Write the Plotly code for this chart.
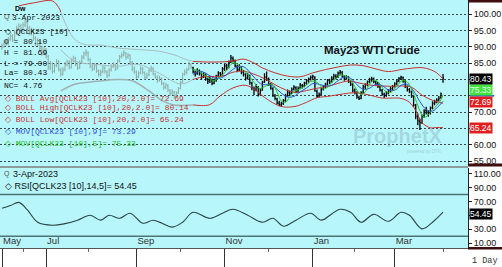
import plotly.graph_objects as go

# ---------------- data ----------------
bar_open = [
    89.6, 90.0, 91.7, 90.9, 92.2, 93.3, 92.3, 94.0, 95.4, 96.5,
    95.0, 96.6, 97.6, 95.7, 94.0, 95.3, 92.5, 90.7, 91.6, 89.2,
    88.3, 89.2, 87.0, 83.6, 84.9, 82.4, 84.3, 85.5, 82.8, 81.5,
    83.1, 84.4, 85.4, 83.6, 85.7, 86.6, 84.5, 83.7, 85.3, 86.6,
    88.0, 88.1, 86.0, 83.8, 83.3, 84.2, 82.4, 81.7, 82.4, 83.5,
    82.2, 81.2, 83.0, 84.1, 84.3, 83.4, 85.8, 87.1, 87.6, 88.0,
    86.9, 87.3, 85.1, 83.3, 82.2, 80.9, 82.1, 83.2, 81.9, 80.8,
    81.5, 82.9, 83.3, 81.6, 80.7, 79.8, 80.2, 78.7, 77.7, 78.1,
    76.6, 75.8, 76.1, 75.1, 76.0, 77.3, 79.2, 81.7, 82.1, 83.1,
    84.4,
    83.6, 82.2, 81.8, 82.6, 81.7, 80.9, 81.3, 80.0, 79.6,
    79.9, 78.9, 79.8, 81.1, 81.8, 81.6, 83.1, 84.3, 83.7, 85.4,
    86.4, 85.7, 84.0, 83.0, 83.7, 82.3, 81.4, 80.5, 81.0, 78.8,
    77.2, 77.0, 77.6, 75.6, 76.8, 79.3, 80.6, 80.0, 78.4, 77.1,
    74.9, 74.0, 72.7, 72.2, 72.7, 73.6, 75.2, 76.0, 75.9, 77.1,
    77.4, 76.6, 77.4, 78.1, 78.1, 78.9, 79.7, 80.2, 80.8, 80.7,
    76.3, 75.0, 75.5, 77.1, 77.9, 78.6, 79.7, 79.3, 80.5, 81.0,
    80.9, 82.0, 82.1, 80.8, 80.4, 80.6, 79.2, 78.4, 76.7, 75.8,
    74.4, 74.3, 76.1, 77.7, 78.5, 79.4, 79.8, 80.2, 79.1, 78.8,
    77.7, 76.6, 75.4, 75.1, 75.9, 76.6, 77.0, 78.0, 78.8, 79.6,
    80.4, 80.5, 79.4, 77.7, 76.9, 76.2, 74.6, 72.0, 68.6, 67.2,
    67.0, 68.9, 70.5, 69.9, 69.8, 71.4, 72.6, 73.2, 73.8, 74.5,
    80.10,
]
bar_high = [
    91.0, 92.1, 92.3, 93.0, 94.0, 93.8, 95.0, 96.4, 97.2, 96.9,
    97.5, 98.3, 98.0, 96.3, 95.9, 95.6, 93.2, 92.6, 92.0, 90.3,
    89.9, 89.6, 87.5, 85.7, 85.2, 84.9, 86.2, 85.9, 83.6, 83.7,
    85.3, 86.0, 85.8, 86.5, 87.2, 86.9, 85.2, 85.8, 87.4, 88.5,
    89.2, 88.6, 86.4, 84.6, 85.1, 84.7, 83.0, 83.0, 84.3, 84.0,
    82.8, 83.4, 84.6, 85.2, 84.9, 86.1, 87.5, 88.2, 89.0, 88.4,
    88.1, 87.7, 85.6, 84.0, 82.7, 82.5, 84.0, 83.8, 82.4, 82.0,
    83.3, 84.2, 83.8, 82.0, 81.2, 81.1, 80.6, 79.2, 79.0, 78.6,
    77.1, 77.0, 76.5, 76.4, 77.7, 79.6, 82.0, 83.0, 83.6, 85.4,
    85.0,
    83.9, 82.7, 83.4, 83.0, 82.1, 82.2, 81.8, 80.5, 80.8,
    80.3, 80.2, 81.4, 82.5, 82.3, 83.8, 84.7, 84.8, 85.8, 87.5,
    87.0, 86.1, 84.5, 84.6, 84.1, 82.9, 81.9, 81.9, 81.5, 79.3,
    77.8, 78.6, 78.0, 77.2, 79.6, 81.9, 82.4, 80.6, 78.9, 77.6,
    75.5, 74.4, 73.5, 73.2, 74.0, 75.6, 76.9, 76.6, 77.5, 78.2,
    77.9, 77.8, 78.9, 78.6, 79.3, 80.1, 80.6, 81.2, 81.4, 81.0,
    76.9, 76.0, 77.4, 78.3, 79.0, 80.1, 80.2, 81.0, 81.7, 81.6,
    82.4, 82.9, 82.6, 81.3, 81.3, 81.0, 79.9, 78.9, 77.2, 76.4,
    75.0, 76.4, 78.3, 78.8, 79.7, 80.5, 80.8, 80.6, 79.6, 79.2,
    78.2, 77.1, 75.9, 76.4, 77.0, 77.8, 78.3, 79.1, 80.0, 80.7,
    81.1, 80.9, 79.9, 78.1, 77.4, 76.6, 75.0, 72.5, 69.6, 68.0,
    69.3, 70.9, 71.6, 70.6, 71.7, 73.3, 73.8, 74.2, 74.9, 76.0,
    81.69,
]
bar_low = [
    89.1, 89.7, 90.2, 90.5, 91.8, 91.4, 92.0, 93.6, 94.9, 94.3,
    94.6, 96.0, 95.2, 93.5, 93.4, 91.8, 90.1, 90.2, 88.7, 87.2,
    87.6, 86.4, 82.9, 82.8, 81.7, 82.0, 83.7, 82.4, 80.9, 81.2,
    82.5, 84.0, 83.1, 83.3, 85.1, 84.0, 82.9, 83.2, 84.8, 86.2,
    87.1, 85.5, 83.4, 82.5, 82.8, 82.0, 80.8, 81.0, 81.9, 81.8,
    80.4, 80.8, 82.4, 83.5, 82.6, 83.0, 85.2, 86.5, 87.0, 86.0,
    86.3, 84.6, 82.5, 81.7, 80.1, 80.4, 81.6, 81.5, 79.9, 80.1,
    81.0, 82.3, 81.2, 80.2, 79.0, 79.3, 78.2, 76.8, 77.1, 76.1,
    74.9, 75.2, 74.2, 74.6, 75.5, 77.0, 78.9, 81.1, 81.6, 82.7,
    83.2,
    81.8, 80.9, 81.4, 81.2, 80.0, 80.4, 79.6, 78.6, 78.9,
    78.2, 78.5, 79.3, 80.6, 80.8, 81.2, 82.6, 82.9, 83.3, 85.0,
    85.2, 83.7, 82.2, 82.6, 81.6, 80.9, 79.7, 80.0, 78.4, 76.7,
    75.2, 76.4, 74.8, 75.1, 76.5, 78.9, 79.5, 78.0, 76.8, 74.6,
    73.6, 72.3, 71.8, 71.6, 72.2, 73.2, 74.7, 74.9, 75.5, 76.6,
    75.8, 76.0, 77.0, 77.2, 77.6, 78.4, 79.0, 79.7, 80.0, 76.2,
    74.3, 74.5, 75.1, 76.6, 77.3, 78.1, 78.6, 78.9, 80.0, 80.1,
    80.4, 81.4, 80.5, 79.6, 79.9, 78.9, 78.0, 76.0, 75.4, 74.1,
    73.7, 73.9, 75.7, 77.1, 77.9, 78.8, 79.2, 78.8, 78.1, 77.4,
    76.3, 75.0, 74.3, 74.7, 75.4, 76.1, 76.6, 77.5, 78.2, 79.1,
    79.8, 79.0, 77.4, 76.3, 75.8, 74.4, 71.6, 67.8, 66.0, 64.5,
    66.4, 68.3, 69.3, 68.6, 69.3, 70.9, 72.1, 72.7, 73.3, 74.1,
    79.00,
]
bar_close = [
    90.2, 91.5, 90.8, 92.4, 93.1, 92.0, 94.3, 95.6, 96.2, 95.1,
    96.8, 97.4, 95.9, 94.2, 95.0, 92.6, 90.9, 91.8, 89.4, 88.1,
    89.0, 87.2, 83.9, 84.8, 82.6, 84.1, 85.3, 83.0, 81.7, 82.9,
    84.6, 85.2, 83.8, 85.9, 86.4, 84.7, 83.5, 85.1, 86.8, 87.9,
    88.3, 86.2, 84.0, 83.1, 84.4, 82.6, 81.5, 82.2, 83.7, 82.4,
    81.0, 82.8, 83.9, 84.5, 83.2, 85.6, 86.9, 87.4, 88.2, 86.7,
    87.5, 85.3, 83.1, 82.4, 80.8, 81.9, 83.4, 82.1, 80.6, 81.3,
    82.7, 83.5, 81.8, 80.9, 79.6, 80.4, 78.9, 77.5, 78.3, 76.8,
    75.6, 76.3, 74.9, 75.8, 77.1, 79.0, 81.5, 82.3, 82.9, 84.6,
    83.8,
    82.4, 81.6, 82.8, 81.9, 80.7, 81.5, 80.2, 79.4, 80.1,
    78.8, 79.6, 80.9, 82.0, 81.4, 83.3, 84.1, 83.5, 85.2, 86.6,
    85.9, 84.2, 82.8, 83.9, 82.1, 81.6, 80.3, 81.2, 79.0, 77.4,
    76.8, 77.9, 75.4, 76.6, 79.1, 80.8, 80.2, 78.6, 77.3, 75.1,
    74.2, 72.9, 72.3, 72.5, 73.4, 75.0, 76.2, 75.7, 76.9, 77.6,
    76.4, 77.2, 78.3, 77.9, 78.8, 79.5, 80.1, 80.6, 80.9, 76.5,
    74.8, 75.3, 76.9, 77.8, 78.5, 79.6, 79.2, 80.4, 81.1, 80.7,
    81.9, 82.3, 81.0, 80.2, 80.7, 79.4, 78.6, 76.5, 76.0, 74.6,
    74.1, 75.9, 77.8, 78.3, 79.2, 80.0, 80.4, 79.3, 78.6, 77.9,
    76.8, 75.6, 74.9, 75.8, 76.4, 77.2, 77.8, 78.6, 79.4, 80.2,
    80.7, 79.6, 77.9, 76.8, 76.4, 74.9, 72.3, 68.8, 67.4, 66.8,
    68.7, 70.3, 70.1, 69.6, 71.2, 72.8, 73.0, 73.6, 74.2, 75.67,
    80.43,
]
faded_count = 91  # older bars drawn in pale gray

# bands / averages, (bar index, value)
red_top_idx = [8, 15, 24, 27, 28]
red_top_val = [102.5, 103.4, 104.0, 102.0, 100.6]
gray_up_idx = [28, 31, 35, 40, 47, 55, 61, 68, 75, 82, 88, 91]
gray_up_val = [100.6, 96.0, 92.0, 90.6, 90.5, 89.6, 89.3, 89.0, 88.6, 87.5, 86.0, 85.5]
gray_mid_idx = [28, 35, 45, 55, 65, 75, 85, 91]
gray_mid_val = [89.0, 85.5, 84.6, 84.0, 84.6, 81.8, 78.6, 80.0]
gray_low_idx = [28, 35, 45, 55, 62, 70, 76, 82, 91]
gray_low_val = [76.5, 78.6, 79.4, 80.0, 79.6, 76.5, 73.6, 72.2, 72.2]

boll_hi_idx = [91, 100, 110, 115, 120, 124, 130, 136, 142, 148, 154, 160, 166, 172,
               178, 184, 190, 196, 200, 204, 207, 210]
boll_hi_val = [85.5, 85.3, 85.6, 86.2, 85.0, 83.5, 82.0, 81.0, 80.8, 82.0, 83.0, 83.8,
               84.4, 84.2, 83.2, 82.4, 83.0, 83.5, 83.6, 83.0, 82.0, 80.14]
boll_avg_idx = [91, 96, 100, 105, 110, 115, 120, 125, 130, 135, 140, 145, 150, 155,
                160, 165, 170, 175, 180, 185, 190, 195, 200, 205, 210]
boll_avg_val = [80.0, 80.8, 80.9, 81.0, 82.2, 82.5, 81.6, 80.2, 78.4, 76.8, 76.0, 76.6,
                77.3, 77.8, 78.8, 79.5, 78.9, 78.3, 78.0, 77.9, 78.0, 77.6, 75.2, 73.6, 72.69]
boll_lo_idx = [91, 95, 99, 104, 110, 116, 120, 125, 130, 134, 140, 145, 150, 155, 160,
               165, 169, 175, 181, 186, 190, 194, 197, 200, 204, 207, 210]
boll_lo_val = [72.2, 72.0, 72.3, 75.0, 77.4, 78.2, 77.0, 74.5, 72.5, 71.6, 71.8, 73.0,
               74.4, 74.8, 75.3, 75.8, 75.9, 75.2, 74.3, 74.3, 74.2, 73.0, 70.5, 66.8,
               65.2, 65.3, 65.24]

mov5_idx = [91, 93, 95, 97, 99, 101, 103, 105, 107, 109, 111, 113, 115, 117, 119, 121,
            123, 125, 127, 129, 131, 133, 135, 137, 139, 141, 143, 145, 147, 149, 151,
            153, 155, 157, 159, 161, 163, 165, 167, 169, 171, 173, 175, 177, 179, 181,
            183, 185, 187, 189, 191, 193, 195, 197, 199, 201, 203, 205, 207, 209, 210]
mov5_val = [83.0, 82.8, 81.8, 81.2, 80.2, 79.6, 80.4, 81.4, 82.8, 84.6, 85.1, 84.2,
            82.8, 81.6, 79.9, 78.3, 77.2, 77.8, 78.3, 78.4, 76.1, 73.4, 73.0, 74.6,
            76.3, 76.8, 77.5, 78.3, 79.4, 79.4, 78.6, 77.1, 77.6, 79.1, 80.2, 81.3,
            81.2, 80.3, 78.9, 76.7, 75.4, 76.2, 78.5, 79.8, 79.3, 77.6, 76.2, 76.0,
            77.2, 78.8, 79.7, 79.2, 77.1, 73.8, 70.4, 68.4, 69.1, 70.8, 72.0, 73.7, 75.33]
mov9_idx = [91, 94, 97, 100, 103, 106, 109, 112, 115, 118, 121, 124, 127, 130, 133,
            136, 139, 142, 145, 148, 151, 154, 157, 160, 163, 166, 169, 172, 175, 178,
            181, 184, 187, 190, 193, 196, 199, 202, 205, 208, 210]
mov9_val = [81.5, 82.5, 81.9, 80.7, 80.3, 81.0, 82.6, 83.8, 83.9, 82.2, 79.9, 78.4,
            78.5, 77.5, 75.8, 74.6, 74.8, 76.2, 77.4, 78.7, 78.5, 78.0, 78.2, 79.6,
            80.7, 80.3, 78.4, 77.0, 77.3, 78.5, 78.1, 76.8, 76.7, 78.2, 78.5, 76.5,
            73.2, 70.8, 70.3, 71.9, 73.29]

rsi_idx = [0, 4, 8, 12, 17, 24, 30, 36, 42, 47, 51, 56, 61, 67, 72, 76, 81, 86, 91,
           99, 105, 110, 117, 124, 129, 134, 140, 147, 152, 157, 161, 166, 171, 177,
           184, 190, 194, 200, 205, 210]
rsi_val = [60.0, 64.0, 68.6, 58.0, 40.0, 35.7, 38.0, 43.0, 50.0, 43.0, 50.0, 45.7,
           53.0, 38.6, 42.9, 39.0, 33.0, 40.0, 54.3, 45.7, 53.0, 58.6, 50.0, 40.0,
           45.7, 34.3, 43.0, 53.0, 43.0, 52.0, 58.6, 54.3, 40.0, 51.4, 41.4, 54.3,
           50.0, 30.5, 40.0, 54.45]

month_tick_idx = [0, 21, 64, 106, 148, 187]
month_tick_txt = ["May", "Jul", "Sep", "Nov", "Jan", "Mar"]
minor_tick_idx = [10, 41, 85, 127, 168, 210]
price_ticks = [55, 60, 65, 70, 75, 80, 85, 90, 95, 100]
price_tick_txt = ["55.00", "60.00", "", "70.00", "", "", "85.00", "90.00", "95.00", "100.00"]
rsi_ticks = [10, 30, 50, 70, 90, 110]
rsi_tick_txt = ["10.00", "30.00", "", "70.00", "90.00", "110.00"]
rsi_bands = [80, 20]

last_vals = {"close": 80.43, "mov5": 75.33, "mov9": 73.29, "avg": 72.69, "low": 65.24,
             "rsi": 54.45}

# ---------------- figure ----------------
W, H = 502, 267
ML, MR, MT, MB = 0, 34, 0, 19
PW, PH = W - ML - MR, H - MT - MB
BG = "#b7f7fc"
RED = "#c9302c"
BLUE = "#2f4fd6"
GREEN = "#22c022"
MONO = "Liberation Mono"
SANS = "Liberation Sans, Arial"
Y0, Y1 = 53.52, 104.28

idx_all = list(range(len(bar_close)))
fig = go.Figure()

fig.add_trace(go.Ohlc(
    x=idx_all[:faded_count], open=bar_open[:faded_count], high=bar_high[:faded_count],
    low=bar_low[:faded_count], close=bar_close[:faded_count],
    increasing_line_color="#8fb0a8", decreasing_line_color="#8fb0a8",
    line_width=1.1, tickwidth=0.45, xaxis="x", yaxis="y", hoverinfo="skip"))


def line(xs, ys, color, width=1, ax="y", shape="spline", xa="x"):
    fig.add_trace(go.Scatter(x=xs, y=ys, mode="lines", line=dict(color=color, width=width, shape=shape),
                             xaxis=xa, yaxis=ax, hoverinfo="skip"))


line(gray_up_idx, gray_up_val, "#a9bcbc")
line(gray_mid_idx, gray_mid_val, "#a9bcbc")
line(gray_low_idx, gray_low_val, "#9fb2b2", 1.5)
line(red_top_idx, red_top_val, RED)

fig.add_trace(go.Ohlc(
    x=idx_all[faded_count:], open=bar_open[faded_count:], high=bar_high[faded_count:],
    low=bar_low[faded_count:], close=bar_close[faded_count:],
    increasing_line_color="#000000", decreasing_line_color="#000000",
    line_width=1.3, tickwidth=0.45, xaxis="x", yaxis="y", hoverinfo="skip"))

line(boll_hi_idx, boll_hi_val, RED)
line(boll_avg_idx, boll_avg_val, RED)
line(boll_lo_idx, boll_lo_val, RED)
line(mov9_idx, mov9_val, BLUE)
line(mov5_idx, mov5_val, GREEN)

line(rsi_idx, rsi_val, "#2a4444", 1.1, ax="y2", xa="x2")

xr = [-0.95, 221.9]
fig.update_layout(
    width=W, height=H, autosize=False,
    margin=dict(l=ML, r=MR, t=MT, b=MB, pad=0),
    paper_bgcolor="white", plot_bgcolor=BG, showlegend=False,
    xaxis=dict(domain=[0, 1], anchor="y", range=xr, showticklabels=False, ticks="",
               showgrid=False, zeroline=False, showline=False,
               rangeslider=dict(visible=False)),
    xaxis2=dict(domain=[0, 1], anchor="y2", matches="x", range=xr,
                tickmode="array", tickvals=month_tick_idx, ticktext=month_tick_txt,
                ticks="outside", ticklen=19, tickcolor="#333", tickwidth=1,
                tickfont=dict(family=SANS, size=9.5, color="#333"),
                ticklabelposition="outside right", ticklabelstandoff=-16,
                showgrid=False, zeroline=False, showline=True, linecolor="#555", linewidth=1,
                minor=dict(tickmode="array", tickvals=minor_tick_idx, ticks="outside",
                           ticklen=3, tickcolor="#666", tickwidth=1, showgrid=False),
                rangeslider=dict(visible=False)),
    yaxis=dict(domain=[(PH - 166) / PH, 1], anchor="x", side="right",
               range=[Y0, Y1], tickmode="array", tickvals=price_ticks, ticktext=price_tick_txt,
               ticks="outside", ticklen=3, tickcolor="#222",
               tickfont=dict(family=SANS, size=9, color="#111"),
               showgrid=True, gridcolor="#3c4747", gridwidth=1, griddash="2px,2px",
               zeroline=False, showline=True, linecolor="#222", linewidth=1),
    yaxis2=dict(domain=[0, (PH - 168) / PH], anchor="x2", side="right",
                range=[3, 118], tickmode="array", tickvals=rsi_ticks, ticktext=rsi_tick_txt,
                ticks="outside", ticklen=3, tickcolor="#222",
                tickfont=dict(family=SANS, size=9, color="#111"),
                showgrid=False, zeroline=False, showline=True, linecolor="#222", linewidth=1),
)

shapes = []
for v in rsi_bands:
    shapes.append(dict(type="line", xref="x2 domain", x0=0, x1=1, yref="y2", y0=v, y1=v,
                       line=dict(color="#4d7475", width=1.5), layer="below"))
# panel separator
shapes.append(dict(type="rect", xref="paper", x0=0, x1=1, yref="paper",
                   y0=(PH - 168) / PH, y1=(PH - 166) / PH, fillcolor="#8d9d9d", line_width=0))
# dark bars in the price-scale strip
for top, bot in [(0, 2.5), (163.5, 166.5), (247, 249.5)]:
    shapes.append(dict(type="rect", xref="paper", x0=1, x1=(W - ML) / PW, yref="paper",
                       y0=(PH - bot) / PH, y1=(PH - top) / PH, fillcolor="#3e0d0d", line_width=0))
# MOV 9 marker: a thin blue strip peeking between the green and red value boxes
shapes.append(dict(type="rect", xref="paper", x0=1.004, x1=1.056, yref="paper",
                   y0=(PH - 96.6) / PH, y1=(PH - 95.0) / PH, fillcolor=BLUE, line_width=0))
fig.update_layout(shapes=shapes)


def px(xp, yp):
    return xp / PW, (PH - yp) / PH


ann = []


def text(xp, yp, s, color="#111", size=8, family=MONO, xanchor="left", bold=False):
    x, y = px(xp, yp)
    ann.append(dict(xref="paper", yref="paper", x=x, y=y, text=("<b>%s</b>" % s) if bold else s,
                    showarrow=False, xanchor=xanchor, yanchor="middle",
                    font=dict(family=family, size=size, color=color)))


text(13, 9, "Dw", "#000", 7, SANS, bold=True)
text(2, 17, "Q", "#555", 7, SANS)
text(10, 17, "3-Apr-2023")
text(3, 31, "◇ QCLK23 [10]")
text(2, 42, "O = 80.10")
text(2, 52, "H = 81.69")
text(2, 63, "L = 79.00")
text(2, 73, "La= 80.43")
text(2, 85, "NC= 4.76")
text(3, 98, "◇ BOLL Avg[QCLK23 [10],20,2.0]= 72.69", RED)
text(3, 108, "◇ BOLL High[QCLK23 [10],20,2.0]= 80.14", RED)
text(3, 119, "◇ BOLL Low[QCLK23 [10],20,2.0]= 65.24", RED)
text(3, 131, "◇ MOV[QCLK23 [10],9]= 73.29", BLUE)
text(3, 143, "◇ MOV[QCLK23 [10],5]= 75.33", GREEN)

text(372, 50, "May23 WTI Crude", "#111", 11.5, SANS, xanchor="center", bold=True)
text(398, 136, "ProphetX", "rgba(120,150,165,0.33)", 20, SANS, xanchor="center", bold=True)
text(424, 151.5, "powered by DTN", "rgba(120,150,165,0.45)", 4.5, SANS, xanchor="center")

text(2, 174, "Q", "#555", 7, SANS)
text(11, 174, "3-Apr-2023", "#111", 9, SANS)
text(3, 186, "◇ RSI[QCLK23 [10],14,5]= 54.45", "#111", 9, SANS)

text(485, 261, "1 Day", "#333", 8.5, MONO, xanchor="center")


def value_box(v, bg, fg, yref="y", center_px=None):
    if center_px is not None:
        ann.append(dict(xref="paper", yref="paper", x=1, y=(PH - center_px) / PH, xanchor="left",
                        yanchor="middle", xshift=1, text=f"{v:.2f}", showarrow=False,
                        bgcolor=bg, borderpad=0, font=dict(family=SANS, size=8.5, color=fg)))
    else:
        ann.append(dict(xref="paper", yref=yref, x=1, y=v, xanchor="left", yanchor="middle",
                        xshift=1, yshift=-2, text=f"{v:.2f}", showarrow=False,
                        bgcolor=bg, borderpad=0, font=dict(family=SANS, size=8.5, color=fg)))


value_box(last_vals["mov5"], "#3ee63e", "#f4fff4", center_px=89.8)
value_box(last_vals["avg"], "#e02020", "white", center_px=101.6)
value_box(last_vals["close"], "#000000", "white", center_px=78.5)
value_box(last_vals["low"], "#e02020", "white", center_px=127.5)
value_box(last_vals["rsi"], "#000000", "white", yref="y2")

fig.update_layout(annotations=ann)

fig.write_html("out.html")
